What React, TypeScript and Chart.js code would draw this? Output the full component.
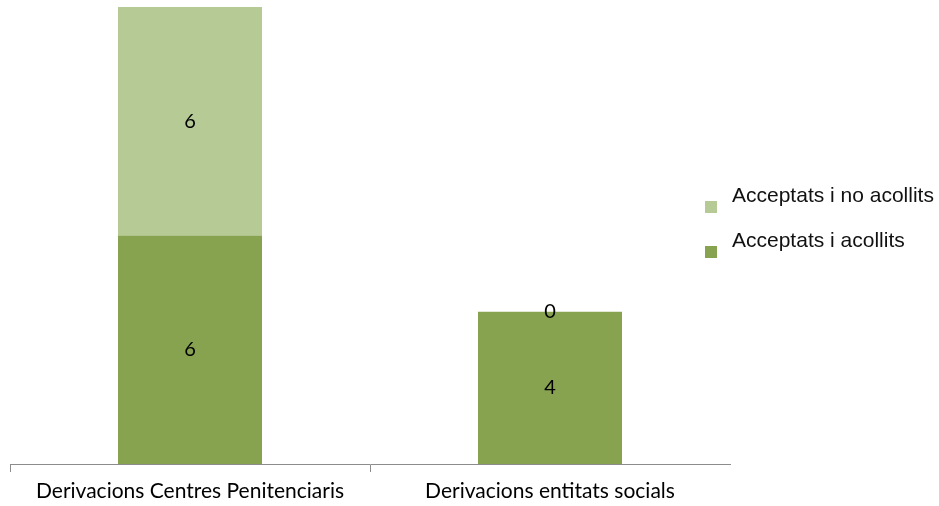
import React, { useEffect, useRef } from "react";
import { Chart, registerables } from "chart.js";

Chart.register(...registerables);

const categories = ["Derivacions Centres Penitenciaris", "Derivacions entitats socials"];
const acollits = [6, 4];
const noAcollits = [6, 0];
const seriesNames = ["Acceptats i acollits", "Acceptats i no acollits"];
const colors = ["#87A34F", "#B5CA94"];

const labelFont = "Lato, 'Open Sans', sans-serif";

const valueLabels = {
  id: "valueLabels",
  afterDatasetsDraw(chart: any) {
    const ctx = chart.ctx;
    ctx.save();
    ctx.fillStyle = "#000";
    ctx.font = `20px ${labelFont}`;
    ctx.textAlign = "center";
    ctx.textBaseline = "middle";
    chart.data.datasets.forEach((ds: any, di: number) => {
      const meta = chart.getDatasetMeta(di);
      meta.data.forEach((el: any, i: number) => {
        const p = el.getProps(["x", "y", "base"], true);
        ctx.fillText(String(ds.data[i]), p.x, (p.y + p.base) / 2);
      });
    });
    ctx.restore();
  },
};

const customLegend = {
  id: "customLegend",
  afterDraw(chart: any) {
    const ctx = chart.ctx;
    ctx.save();
    const items = [
      { text: seriesNames[1], color: colors[1], y: 196 },
      { text: seriesNames[0], color: colors[0], y: 241 },
    ];
    ctx.font = "21px 'Liberation Sans', Arial, sans-serif";
    ctx.textBaseline = "middle";
    ctx.textAlign = "left";
    items.forEach((it) => {
      ctx.fillStyle = it.color;
      ctx.fillRect(705, it.y + 5, 12, 12);
      ctx.fillStyle = "#111";
      ctx.fillText(it.text, 732, it.y);
    });
    ctx.restore();
  },
};

export default function App() {
  const ref = useRef<HTMLCanvasElement>(null);
  useEffect(() => {
    if (!ref.current) return;
    const chart = new Chart(ref.current, {
      type: "bar",
      data: {
        labels: categories,
        datasets: [
          { label: seriesNames[0], data: acollits, backgroundColor: colors[0], barPercentage: 0.4, categoryPercentage: 1 },
          { label: seriesNames[1], data: noAcollits, backgroundColor: colors[1], barPercentage: 0.4, categoryPercentage: 1 },
        ],
      },
      options: {
        responsive: false,
        animation: false,
        layout: { padding: { left: 10, right: 209, top: 7, bottom: 0 } },
        plugins: { legend: { display: false }, tooltip: { enabled: false } },
        scales: {
          x: {
            stacked: true,
            offset: true,
            border: { display: true, color: "#8c8c8c", width: 1 },
            grid: {
              drawOnChartArea: false,
              drawTicks: true,
              tickLength: 8,
              color: (c: any) => (c.index === undefined || c.index >= categories.length ? "rgba(0,0,0,0)" : "#8c8c8c"),
            },
            ticks: { color: "#000", font: { family: labelFont, size: 21 }, padding: 7, maxRotation: 0 },
            afterFit: (s: any) => { s.height = 42; },
          },
          y: { stacked: true, display: false, min: 0, max: 12 },
        },
      },
      plugins: [valueLabels, customLegend],
    });
    return () => chart.destroy();
  }, []);
  return (
    <div style={{ position: "absolute", left: 0, top: 0, width: 939, height: 506, background: "#fff" }}>
      <canvas ref={ref} width={939} height={506} />
    </div>
  );
}
